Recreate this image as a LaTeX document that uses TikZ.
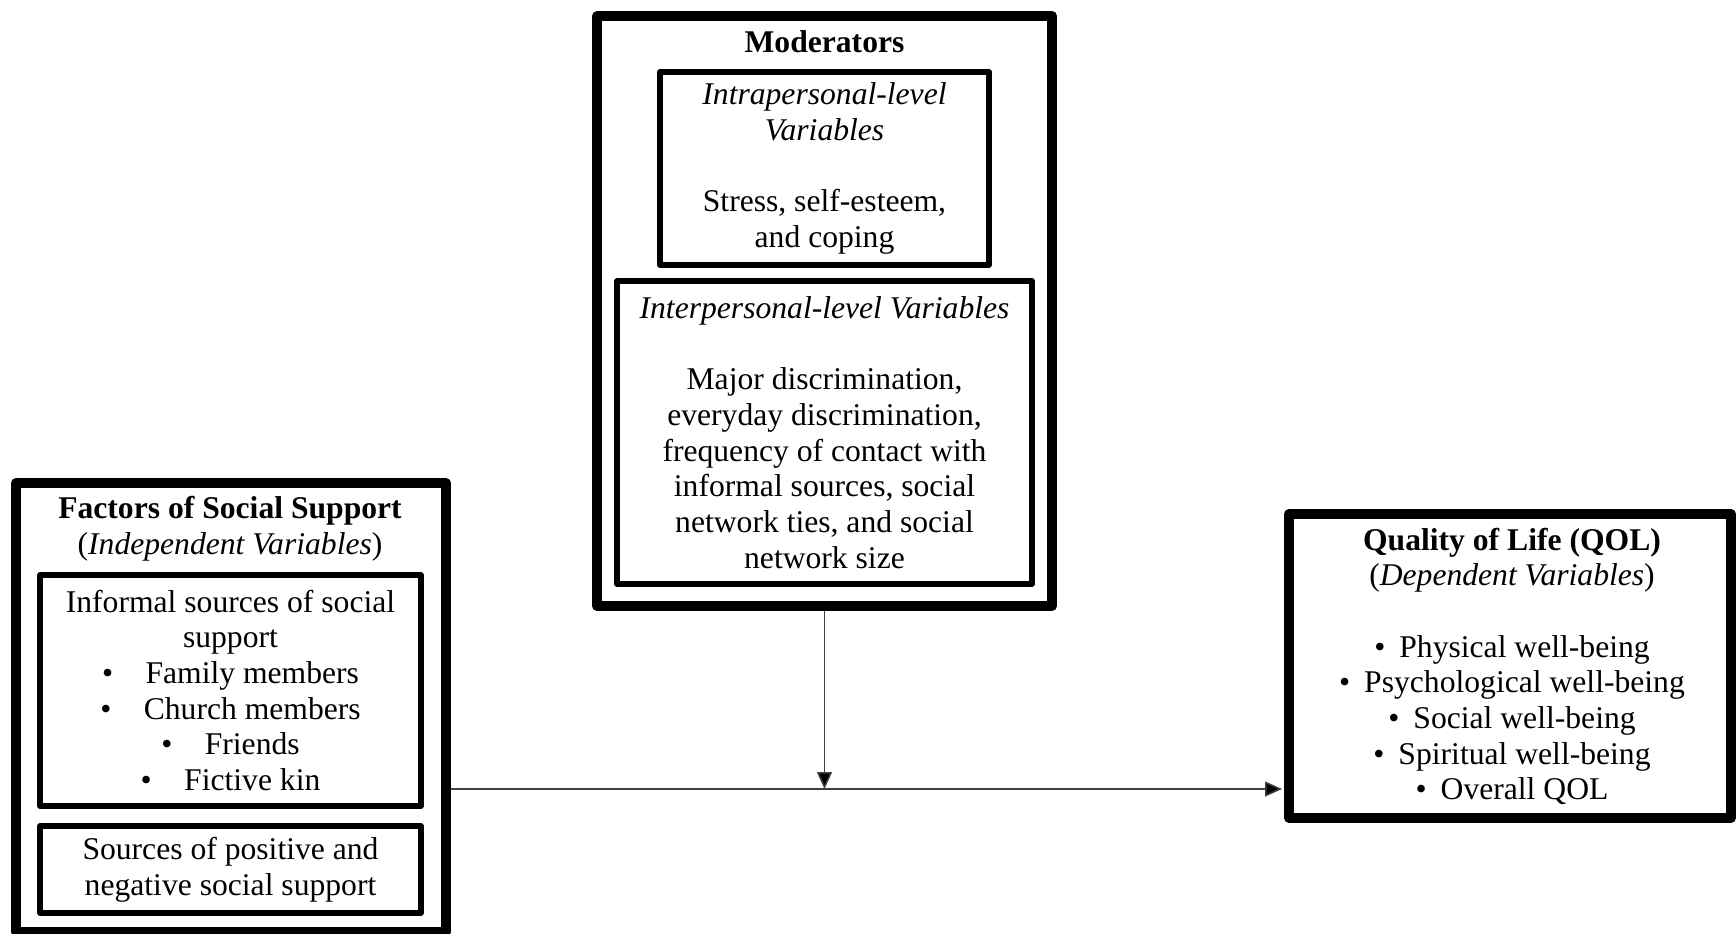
\documentclass[tikz,border=0pt]{standalone}
\usepackage{fontspec}
\setmainfont{Liberation Serif}
\usetikzlibrary{arrows.meta}
\begin{document}
\begin{tikzpicture}[x=0.02cm, y=-0.02cm, line join=round, font=\fontsize{18}{20.3}\selectfont,
	bigbox/.style={draw, line width=0.2cm, inner sep=0pt},
	smallbox/.style={draw, line width=0.11cm, inner sep=0pt, align=center},
	txt/.style={inner sep=0pt, align=center},
	arr/.style={draw=black!75, line width=0.85pt, -{Triangle[length=0.34cm, width=0.3cm, fill=black]}}]
	\useasboundingbox (0,0) rectangle (1736,933);
	\def\gap{\hspace{0.65cm}}
	\def\dot{\textbullet\hspace{0.28cm}}
	% outer frames
	\node[bigbox, minimum width=8.6cm, minimum height=8.98cm] (ind) at (231,707.5) {};
	\node[bigbox, minimum width=9.1cm, minimum height=11.8cm] (mod) at (824.5,311) {};
	\node[bigbox, minimum width=8.84cm, minimum height=6.08cm] (dep) at (1510,666) {};
	% titles
	\node[txt] (indtitle) at (230,529) {\textbf{Factors of Social Support}\\(\textit{Independent Variables})};
	\node[txt] (modtitle) at (824.5,42) {\textbf{Moderators}};
	% inner boxes
	\node[smallbox, minimum width=7.62cm, minimum height=4.62cm] (informal) at (230.5,690.5)
		{Informal sources of social\\support\\\textbullet\gap Family members\\\textbullet\gap Church members\\\textbullet\gap Friends\\\textbullet\gap Fictive kin};
	\node[smallbox, minimum width=7.62cm, minimum height=1.74cm] (posneg) at (230.5,869.5)
		{Sources of positive and\\negative social support};
	\node[smallbox, minimum width=6.58cm, minimum height=3.86cm] (intra) at (824.5,168.5)
		{\textit{Intrapersonal-level}\\\textit{Variables}\\[20.3pt]Stress, self-esteem,\\and coping};
	\node[smallbox, minimum width=8.3cm, minimum height=6.06cm] (inter) at (824.5,432.5)
		{\textit{Interpersonal-level Variables}\\[20.3pt]Major discrimination,\\everyday discrimination,\\frequency of contact with\\informal sources, social\\network ties, and social\\network size};
	\node[txt] (qol) at (1512,666.5)
		{\textbf{Quality of Life (QOL)}\\(\textit{Dependent Variables})\\[20.3pt]\dot Physical well-being\\\dot Psychological well-being\\\dot Social well-being\\\dot Spiritual well-being\\\dot Overall QOL};
	% connectors
	\coordinate (meet) at (824.5,789);
	\draw[arr, shorten >=0.04cm] (ind.east |- meet) -- (dep.west |- meet);
	\draw[arr] (mod.south) -- (meet);
\end{tikzpicture}
\end{document}
